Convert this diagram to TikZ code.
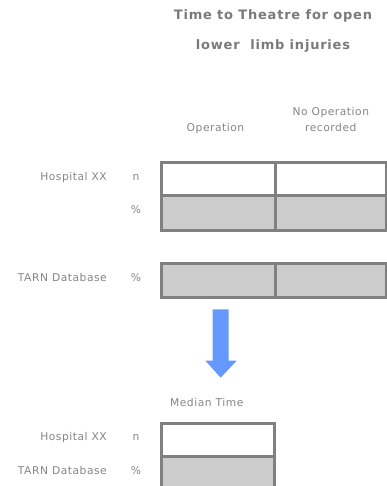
\documentclass[tikz,border=0pt]{standalone}
\usepackage{fontspec}
\setmainfont{DejaVu Sans}
\newfontfamily\lblfont[LetterSpace=5]{DejaVu Sans}
\newfontfamily\ttlfont[LetterSpace=6]{DejaVu Sans Bold}
\definecolor{txtgray}{HTML}{858585}
\definecolor{ttlgray}{HTML}{7A7A7A}
\definecolor{bordergray}{HTML}{808080}
\definecolor{cellgray}{HTML}{CCCCCC}
\definecolor{arrowblue}{HTML}{6699FF}
\begin{document}
\begin{tikzpicture}[x=1pt,y=-1pt,
  lbl/.style={inner sep=0pt, text=txtgray, font=\lblfont\fontsize{10.7}{12}\selectfont},
  ttl/.style={inner sep=0pt, text=ttlgray, font=\ttlfont\fontsize{13}{15}\selectfont},
  cell/.style={draw=bordergray, line width=3pt, rectangle, inner sep=0pt, anchor=north west},
  whitecell/.style={cell, fill=white},
  graycell/.style={cell, fill=cellgray}]
\useasboundingbox (0,0) rectangle (386,486);
% title
\node[ttl, anchor=mid] (t1) at (273,17) {Time to Theatre for open};
\node[ttl, anchor=mid] (t2) at (273,47) {lower\ \ limb injuries};
% column headers
\node[lbl, anchor=mid] (hop) at (215.5,129) {Operation};
\node[lbl, anchor=mid] (hno1) at (330.8,113) {No Operation};
\node[lbl, anchor=mid] (hno2) at (330.8,129) {recorded};
% table 1
\node[whitecell, minimum width=114pt, minimum height=32.5pt] (a11) at (159.5,161.5) {};
\node[whitecell, minimum width=111.5pt, minimum height=32.5pt] (a12) at (273.5,161.5) {};
\node[graycell, minimum width=114pt, minimum height=34.5pt] (a21) at (159.5,194) {};
\node[graycell, minimum width=111.5pt, minimum height=34.5pt] (a22) at (273.5,194) {};
\node[lbl, anchor=mid east] (hosp1) at (107,177.5) {Hospital XX};
\node[lbl, anchor=mid] (n1) at (136,177.5) {n};
\node[lbl, anchor=mid] (p1) at (136,211.2) {\%};
% table 2
\node[graycell, minimum width=114pt, minimum height=33.5pt] (b11) at (159.5,262) {};
\node[graycell, minimum width=111.5pt, minimum height=33.5pt] (b12) at (273.5,262) {};
\node[lbl, anchor=mid east] (tarn1) at (107,278.7) {TARN Database};
\node[lbl, anchor=mid] (p2) at (136,278.7) {\%};
% arrow
\fill[arrowblue] (212.7,309.3) -- (228.7,309.3) -- (228.7,360.7) -- (236.7,360.7)
  -- (220.7,377.7) -- (205.3,360.7) -- (212.7,360.7) -- cycle;
% table 3
\node[lbl, anchor=mid] (med) at (206.7,404) {Median Time};
\node[whitecell, minimum width=113pt, minimum height=33.5pt] (c11) at (159.5,421.5) {};
\node[graycell, minimum width=113pt, minimum height=34pt] (c21) at (159.5,455) {};
\node[lbl, anchor=mid east] (hosp2) at (107,438.2) {Hospital XX};
\node[lbl, anchor=mid] (n2) at (136,438.2) {n};
\node[lbl, anchor=mid east] (tarn2) at (107,471.5) {TARN Database};
\node[lbl, anchor=mid] (p3) at (136,471.5) {\%};
\end{tikzpicture}
\end{document}
